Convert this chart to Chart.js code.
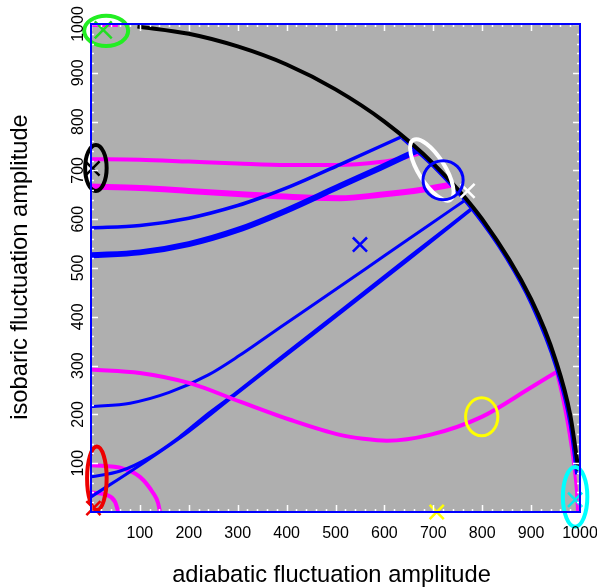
<!DOCTYPE html>
<html><head><meta charset="utf-8">
<script src="https://cdn.jsdelivr.net/npm/chart.js@4/dist/chart.umd.min.js"></script>
<style>html,body{margin:0;padding:0;background:#fff}canvas{display:block}</style>
</head><body>
<canvas id="c" width="597" height="588"></canvas>
<script>
// ---- data ----
const tickValues = [0,100,200,300,400,500,600,700,800,900,1000];
const xTitle = 'adiabatic fluctuation amplitude';
const yTitle = 'isobaric fluctuation amplitude';

// black outer boundary
const arcX = [95, 200, 300, 400, 500, 600, 700, 800, 900, 950, 980, 997];
const arcY = [995, 980, 954, 917, 866, 800, 714, 600, 436, 312, 199, 85];

// blue strip along the boundary
const blueArcX = [636, 700, 780, 850, 900, 950, 980, 993];
const blueArcY = [766, 708, 619, 519, 427, 299, 178, 77];

// blue curves
const b1X = [0, 100, 200, 300, 350, 400, 440, 509, 591, 635];
const b1Y = [582, 587, 602, 628, 645, 664, 681, 712, 749, 769];
const b2X = [0, 100, 200, 300, 400, 509, 591, 666];
const b2Y = [526, 532, 549, 578, 618, 668, 705, 740];
const b3X = [0, 80, 160, 240, 304, 352, 430, 509, 600, 690, 765];
const b3Y = [216, 223, 245, 281, 321, 354, 408, 462, 525, 587, 639];
const b4aX = [0, 60, 120, 180, 240, 291, 400, 509, 650, 781];
const b4aY = [72, 84, 112, 153, 202, 240, 326, 411, 522, 624];
const b4bX = [0, 100, 200, 291, 400, 509, 650, 778];
const b4bY = [31, 96, 165, 237, 322, 407, 518, 620];

// magenta curves
const m1X = [0, 55];
const m1Y = [997, 997];
const m2X = [0, 100, 200, 300, 400, 500, 591, 640, 670];
const m2Y = [723, 722, 718, 714, 711, 711, 717, 726, 734];
const m3X = [0, 100, 200, 325, 450, 509, 591, 680, 738];
const m3Y = [667, 664, 658, 650, 644, 643, 650, 661, 671];
const m4X = [0, 100, 202, 305, 407, 509, 557, 605, 693, 799, 898, 952];
const m4Y = [292, 285, 264, 226, 189, 158, 150, 146, 158, 195, 254, 287];
const m4tailX = [952, 965, 978, 988, 993, 995];
const m4tailY = [287, 230, 160, 90, 40, 0];
const m5X = [0, 66, 100, 127, 137, 141];
const m5Y = [96, 89, 72, 39, 19, 0];
const m6X = [0, 32, 49, 56];
const m6Y = [40, 35, 21, 0];

// cross markers
const markX = [25, 3, 5, 707, 990, 770, 550];
const markY = [988, 704, 8, 0, 25, 658, 548];
const markColor = ['#22dd22', '#000000', '#ee0000', '#ffff00', '#00eeee', '#ffffff', '#0000ff'];
const markSize = [12, 10, 10, 10, 10, 10, 10];

// ring annotations (centre, radii in data units)
const ringX = [31, 10, 12, 799, 990, 697, 720];
const ringY = [986, 705, 69, 195, 31, 701, 680];
const ringRX = [45, 22, 20, 33, 25, 72, 41];
const ringRY = [31, 47, 65, 39, 61, 27, 40];
const ringTilt = [0, 0, 0, 0, 0, 58, 0];
const ringColor = ['#22ee22', '#000000', '#ee0000', '#ffff00', '#00ffff', '#ffffff', '#0000ff'];
const ringWidth = [4, 4, 4, 3, 4, 4, 3];

// ---- build chart ----
const pts = (xs, ys) => xs.map((x, i) => ({x, y: ys[i]}));
function line(xs, ys, color, width, order) {
  return {data: pts(xs, ys), showLine: true, borderColor: color, borderWidth: width,
    pointRadius: 0, cubicInterpolationMode: 'monotone', fill: false, order: order,
    borderCapStyle: 'butt', borderJoinStyle: 'round'};
}
const FONT = "'Liberation Sans', Arial, Helvetica, sans-serif";

const framePlugin = {
  id: 'frame',
  beforeDraw(chart) {
    const {ctx, chartArea: a} = chart;
    ctx.save();
    ctx.fillStyle = '#afafaf';
    ctx.fillRect(a.left, a.top, a.right - a.left, a.bottom - a.top);
    ctx.restore();
  },
  afterDatasetsDraw(chart) {
    const {ctx, chartArea: a, scales: {x, y}} = chart;
    ctx.save();
    // rings
    ringX.forEach((cx, i) => {
      const px = x.getPixelForValue(cx), py = y.getPixelForValue(ringY[i]);
      const rx = Math.abs(x.getPixelForValue(cx + ringRX[i]) - px);
      const ry = Math.abs(y.getPixelForValue(ringY[i] + ringRY[i]) - py);
      ctx.beginPath();
      ctx.ellipse(px, py, rx, ry, ringTilt[i] * Math.PI / 180, 0, Math.PI * 2);
      ctx.strokeStyle = ringColor[i];
      ctx.lineWidth = ringWidth[i];
      ctx.stroke();
    });
    // white tick marks inside frame
    ctx.strokeStyle = '#ffffff';
    ctx.lineWidth = 1.5;
    for (let v = 0; v <= 1000; v += 20) {
      const major = v % 100 === 0;
      const L = major ? 7 : 3;
      const px = Math.round(x.getPixelForValue(v)) + 0.5;
      const py = Math.round(y.getPixelForValue(v)) + 0.5;
      ctx.beginPath();
      ctx.moveTo(px, a.bottom); ctx.lineTo(px, a.bottom - L);
      ctx.moveTo(px, a.top); ctx.lineTo(px, a.top + L);
      ctx.moveTo(a.left, py); ctx.lineTo(a.left + L, py);
      ctx.moveTo(a.right, py); ctx.lineTo(a.right - L, py);
      ctx.stroke();
    }
    // blue frame
    ctx.strokeStyle = '#0000ff';
    ctx.lineWidth = 2;
    ctx.strokeRect(a.left, a.top, a.right - a.left, a.bottom - a.top);
    // tick labels
    ctx.fillStyle = '#000';
    ctx.font = '16px ' + FONT;
    ctx.textAlign = 'center';
    ctx.textBaseline = 'alphabetic';
    tickValues.forEach(v => {
      if (v === 0) return;
      ctx.fillText(String(v), x.getPixelForValue(v), a.bottom + 26);
      const py = y.getPixelForValue(v);
      ctx.save();
      ctx.translate(a.left - 8.5, py);
      ctx.rotate(-Math.PI / 2);
      ctx.fillText(String(v), 0, 0);
      ctx.restore();
    });
    // axis titles
    ctx.font = '23.7px ' + FONT;
    ctx.fillText(xTitle, 331.5, 582);
    ctx.save();
    ctx.translate(26.7, 267);
    ctx.rotate(-Math.PI / 2);
    ctx.fillText(yTitle, 0, 0);
    ctx.restore();
    ctx.restore();
  }
};

new Chart(document.getElementById('c'), {
  type: 'scatter',
  data: {
    datasets: [
      {data: pts(markX, markY), pointStyle: 'crossRot', pointRadius: markSize,
        pointBorderColor: markColor, pointBackgroundColor: markColor, pointBorderWidth: 2.5,
        showLine: false, clip: false, order: 0},
      line(arcX, arcY, '#000000', 4, 1),
      line(blueArcX, blueArcY, '#0000ff', 3, 2),
      line(b1X, b1Y, '#0000ff', 3.5, 3),
      line(b2X, b2Y, '#0000ff', 6, 3),
      line(b3X, b3Y, '#0000ff', 3, 3),
      line(b4aX, b4aY, '#0000ff', 3, 3),
      line(b4bX, b4bY, '#0000ff', 3, 3),
      line(m1X, m1Y, '#ff00ff', 3, 4),
      line(m2X, m2Y, '#ff00ff', 4, 4),
      line(m3X, m3Y, '#ff00ff', 6, 4),
      line(m4X, m4Y, '#ff00ff', 4, 2),
      line(m4tailX, m4tailY, '#ff00ff', 3, 2),
      line(m5X, m5Y, '#ff00ff', 4, 4),
      line(m6X, m6Y, '#ff00ff', 4, 4)
    ]
  },
  options: {
    responsive: false,
    animation: false,
    events: [],
    layout: {padding: {top: 24, right: 17, left: 0, bottom: 0}},
    plugins: {legend: {display: false}, tooltip: {enabled: false}},
    scales: {
      x: {
        type: 'linear', min: 0, max: 1000,
        ticks: {display: false},
        grid: {display: false, drawTicks: false},
        border: {display: false},
        afterFit(s) { s.height = 76; }
      },
      y: {
        type: 'linear', min: 0, max: 1000,
        ticks: {display: false},
        grid: {display: false, drawTicks: false},
        border: {display: false},
        afterFit(s) { s.width = 91; }
      }
    }
  },
  plugins: [framePlugin]
});
</script>
</body></html>
